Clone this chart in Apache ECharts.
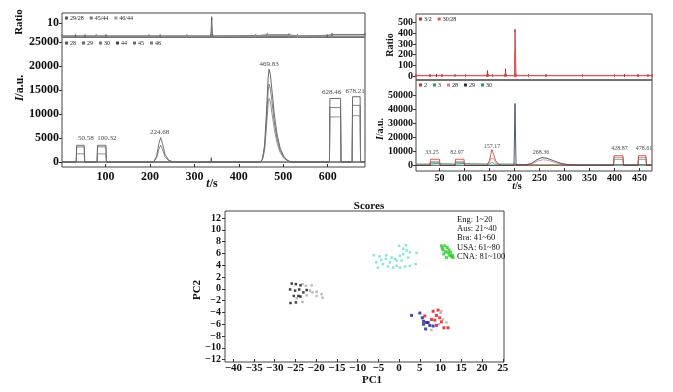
<!DOCTYPE html>
<html><head><meta charset="utf-8">
<script src="https://cdn.jsdelivr.net/npm/echarts@6/dist/echarts.min.js"></script>
<style>html,body{margin:0;padding:0;background:#fff}#c{width:673px;height:392px}</style>
</head><body><div id="c"></div>
<script>
// ---------- Top-left chromatogram (t/s vs intensity) ----------
const tlXTicks = [100, 200, 300, 400, 500, 600];
const tlRatioTicks = [10];
const tlIntTicks = [0, 5000, 10000, 15000, 20000, 25000];
const tlRatioNames = ['29/28', '45/44', '46/44'];
const tlIntNames = ['28', '29', '30', '44', '45', '46'];
const tlRatio2928 = [[2,0.8],[32,0.8],[54,0.8],[79,0.8],[101,0.8],[198,0.8],[223,0.8],[283,0.8],[337,0.8],[339,13.5],[341,0.8],[438,0.8],[464,1.6],[513,1.6],[532,0.8],[599,0.8],[610,1.8],[684,1.8]];
const tlRatio4544 = [[2,0.6],[54,0.6],[101,0.6],[223,0.6],[337,0.6],[339,6],[341,0.6],[464,1.2],[513,1.2],[532,0.6],[610,1.4],[684,1.4]];
const tlRatio4644 = [[2,0.5],[79,0.5],[198,0.5],[283,0.5],[438,0.5],[464,1.0],[513,1.0],[532,0.5],[684,0.5]];
const tl28 = [[2,0],[34,0],[35,3480],[52,3480],[53,0],[81,0],[82,3480],[101,3480],[102,0],[208,0],[215,1200],[220,3800],[224,5100],[228,3900],[234,1600],[242,400],[252,0],[684,0]];
const tl29 = [[2,0],[34,0],[35,3150],[52,3150],[53,0],[81,0],[82,3150],[101,3150],[102,0],[208,0],[215,900],[220,2700],[224,3500],[228,2700],[234,1100],[242,300],[252,0],[684,0]];
const tl30 = [[2,0],[34,0],[35,1700],[52,1700],[53,0],[81,0],[82,1700],[101,1700],[102,0],[684,0]];
const tl44 = [[2,0],[337,0],[338,900],[339,0],[448,0],[453,600],[458,3500],[462,10000],[466,17500],[468,19300],[471,18200],[475,14500],[480,9800],[486,5800],[493,2900],[501,1200],[509,400],[517,0],[604,0],[605,13240],[629,13240],[630,0],[655,0],[656,13600],[673,13600],[674,0],[684,0]];
const tl45 = [[2,0],[448,0],[453,500],[458,2900],[462,8400],[466,14700],[468,16240],[471,15300],[475,12200],[480,8200],[486,4900],[493,2400],[501,1000],[509,300],[517,0],[604,0],[605,11360],[629,11360],[630,0],[655,0],[656,11800],[673,11800],[674,0],[684,0]];
const tl46 = [[2,0],[448,0],[453,400],[458,2400],[462,6900],[466,12000],[468,13240],[471,12500],[475,9900],[480,6700],[486,4000],[493,2000],[501,800],[509,300],[517,0],[604,0],[605,9400],[629,9400],[630,0],[655,0],[656,9650],[673,9650],[674,0],[684,0]];
const tlPeakLabels = ['50.58', '100.32', '224.68', '469.83', '628.46', '678.21'];
const tlPeakT = [56, 103, 222, 468, 609, 662];
const tlPeakY = [4900, 4900, 6300, 20400, 14650, 14850];

// ---------- Top-right chromatogram ----------
const trXTicks = [50, 100, 150, 200, 250, 300, 350, 400, 450];
const trRatioTicks = [0, 100, 200, 300, 400, 500];
const trIntTicks = [0, 10000, 20000, 30000, 40000, 50000];
const trRatioNames = ['3/2', '30/28'];
const trIntNames = ['2', '3', '28', '29', '30'];
const trRatio32 = [[3,6],[31,6],[44,6],[55,6],[81,6],[102,6],[145,6],[146,40],[147,6],[156,6],[181,6],[182,55],[183,6],[200,6],[201,430],[203,6],[228,6],[263,6],[336,6],[400,6],[420,6],[447,6],[467,6],[475,6]];
const trRatio3028 = [[3,2],[31,2],[55,2],[102,2],[156,2],[200,2],[201,215],[202,2],[228,2],[263,2],[336,2],[400,2],[447,2],[475,2]];
const tr2 = [[3,0],[31,0],[32,4300],[50,4300],[51,0],[81,0],[82,4300],[99,4300],[100,0],[145,0],[150,3500],[153,8500],[155,11200],[158,8000],[162,3500],[168,800],[175,0],[398,0],[399,6800],[417,6800],[418,0],[447,0],[448,6800],[463,6800],[464,0],[475,0]];
const tr3 = [[3,900],[31,900],[32,1300],[50,1300],[51,900],[81,900],[82,1300],[99,1300],[100,900],[150,900],[155,2400],[160,900],[200,900],[205,300],[475,300]];
const tr28 = [[3,0],[31,0],[32,2600],[50,2600],[51,0],[81,0],[82,2600],[99,2600],[100,0],[145,0],[150,2000],[153,5000],[155,6400],[158,4700],[162,2000],[168,500],[175,0],[225,0],[235,800],[245,3000],[258,4000],[270,3300],[285,1500],[300,400],[315,0],[398,0],[399,5600],[417,5600],[418,0],[447,0],[448,5600],[463,5600],[464,0],[475,0]];
const tr29 = [[3,0],[199,0],[201,44000],[203,500],[215,300],[225,500],[235,1500],[245,4000],[255,5500],[265,5000],[280,3000],[295,1200],[310,400],[330,200],[475,200]];
const tr30 = [[3,0],[31,0],[32,1800],[50,1800],[51,0],[81,0],[82,1800],[99,1800],[100,0],[398,0],[399,4300],[417,4300],[418,0],[447,0],[448,4300],[463,4300],[464,0],[475,0]];
const trPeakLabels = ['33.25', '82.97', '157.17', '268.36', '428.87', '478.61'];
const trPeakT = [35, 85, 155, 253, 410, 459];
const trPeakY = [9500, 9500, 13600, 9500, 11900, 11900];

// ---------- Scores (PCA) ----------
const pcXTicks = [-40, -35, -30, -25, -20, -15, -10, -5, 0, 5, 10, 15, 20, 25];
const pcYTicks = [-12, -10, -8, -6, -4, -2, 0, 2, 4, 6, 8, 10, 12];
const groupLegend = ['Eng: 1~20', 'Aus: 21~40', 'Bra: 41~60', 'USA: 61~80', 'CNA: 81~100'];
const engPts = [[-25.9,0.9],[-24.9,0.8],[-23.8,0.6],[-26.3,-0.1],[-25.1,-0.3],[-24.1,-0.1],[-23.1,-0.6],[-22.3,-0.2],[-25.4,-1.2],[-24.3,-1.2],[-23.8,-1.3],[-26.2,-2.4],[-24.9,-2.3]];
const engNums = [[-23.3,0.8],[-22.5,0.5],[-21.1,0.6],[-21.5,-0.3],[-20.9,-0.6],[-19.9,-0.5],[-18.7,-0.9],[-18.5,-1.5],[-19.9,-1.2],[-22.3,-1.1],[-23.3,-2.2],[-24.7,-1.6]];
const ausPts = [[-6.1,5.7],[-4.7,5.5],[-3.2,5.1],[-1.8,5.3],[-3.9,4.2],[-5.1,3.6],[-2.7,3.8],[-0.6,4.8],[0.2,5.6],[1.0,5.9],[1.8,6.5],[2.6,6.2],[1.6,7.4],[0.0,7.3],[1.0,6.8],[4.2,6.1],[4.0,4.2],[2.6,3.9],[1.4,3.8],[0.2,3.6],[-0.6,3.9],[-1.4,3.6],[-2.2,4.5],[-3.1,5.7],[-4.3,4.9],[-5.5,4.5],[2.2,5.3],[0.6,4.8],[-1.0,5.1]];
const braPts = [[10.2,7.3],[11.0,7.3],[11.6,7.0],[10.6,6.6],[11.2,6.3],[11.8,6.1],[10.8,5.9],[12.2,5.7],[12.6,5.5],[11.4,5.3],[13.0,5.3],[12.0,6.6],[10.4,6.9],[12.4,6.2],[12.9,5.7]];
const usaPts = [[6.2,-4.6],[8.2,-3.8],[9.4,-3.6],[9.0,-4.5],[9.8,-4.9],[8.6,-5.3],[10.2,-5.6],[10.8,-6.6],[11.8,-6.6],[9.0,-6.2],[7.8,-5.2]];
const cnaPts = [[3.0,-4.5],[5.0,-4.1],[5.6,-4.9],[5.9,-5.5],[6.6,-5.7],[7.4,-6.2],[6.4,-6.8],[7.0,-5.7],[8.2,-6.3],[5.9,-6.0]];
const mixNums = [[10.0,-4.1],[10.6,-5.2],[11.4,-5.7],[7.8,-7.0],[10.2,-3.8],[9.6,-6.0]];

const FF = '"Liberation Serif","DejaVu Serif",serif';
const chart = echarts.init(document.getElementById('c'), null, {renderer: 'canvas'});

function line(name, data, idx, color, width, sym) {
  return {
    type: 'line', name: name, data: data, xAxisIndex: idx, yAxisIndex: idx,
    showSymbol: !!sym, symbol: 'rect', symbolSize: [1, 3], silent: true,
    itemStyle: {color: color}, lineStyle: {color: color, width: width || 0.8},
    animation: false, z: 3
  };
}
function peakLabels(labels, ts, ys, idx, size) {
  return {
    type: 'scatter', xAxisIndex: idx, yAxisIndex: idx, symbolSize: 0, silent: true,
    data: ts.map((t, i) => [t, ys[i]]),
    label: {show: true, position: 'inside', formatter: p => labels[p.dataIndex],
      fontFamily: FF, fontSize: size, color: '#111'},
    animation: false, z: 5
  };
}
function scat(name, data, color, size) {
  return {type: 'scatter', name: name, data: data, xAxisIndex: 4, yAxisIndex: 4,
    symbol: 'rect', symbolSize: size, itemStyle: {color: color}, animation: false, silent: true};
}
function valX(idx, min, max, ticks, showLabels, fs, margin) {
  return {
    type: 'value', gridIndex: idx, min: min, max: max,
    axisLine: {show: false, onZero: false}, splitLine: {show: false},
    axisTick: {show: showLabels, inside: true, length: 3, customValues: ticks, lineStyle: {color: '#333'}},
    axisLabel: {show: showLabels, customValues: ticks, fontFamily: FF, fontSize: fs, fontWeight: 'bold', color: '#111', margin: margin,
      formatter: v => String(v).replace('-', '\u2212')}
  };
}
function valY(idx, min, max, ticks, fs, weight, margin) {
  return {
    type: 'value', gridIndex: idx, min: min, max: max,
    axisLine: {show: false, onZero: false}, splitLine: {show: false},
    axisTick: {show: true, inside: false, length: 3, customValues: ticks, lineStyle: {color: '#333'}},
    axisLabel: {customValues: ticks, fontFamily: FF, fontSize: fs, fontWeight: weight, color: '#111', margin: margin,
      formatter: v => String(v).replace('-', '\u2212')}
  };
}
const gridStyle = {show: true, borderColor: '#444', borderWidth: 1, backgroundColor: 'transparent', containLabel: false};
const legendBase = {icon: 'rect', itemWidth: 3, itemHeight: 3, itemGap: 6, selectedMode: false,
  textStyle: {fontFamily: FF, fontSize: 6, color: '#222', padding: [0, 0, 0, -3]}, padding: 0,
  formatter: n => n.split('|')[1]};

const trColors = {'2': '#c0392b', '3': '#2e9d5b', '28': '#e07a7a', '29': '#1f3550', '30': '#3a8a7a'};

const series = [
  line('L|29/28', tlRatio2928, 0, '#555', 0.8, true),
  line('L|45/44', tlRatio4544, 0, '#777', 0.8, true),
  line('L|46/44', tlRatio4644, 0, '#999', 0.8, true),
  line('L|28', tl28, 1, '#555'),
  line('L|29', tl29, 1, '#666'),
  line('L|30', tl30, 1, '#777'),
  line('L|44', tl44, 1, '#444'),
  line('L|45', tl45, 1, '#666'),
  line('L|46', tl46, 1, '#777'),
  peakLabels(tlPeakLabels, tlPeakT, tlPeakY, 1, 7),
  line('R|3/2', trRatio32, 2, '#b03030', 0.8, true),
  line('R|30/28', trRatio3028, 2, '#e05050', 0.8, true),
  line('R|3', tr3, 3, trColors['3']),
  line('R|30', tr30, 3, trColors['30']),
  line('R|28', tr28, 3, trColors['28']),
  line('R|2', tr2, 3, trColors['2']),
  line('R|29', tr29, 3, trColors['29']),
  peakLabels(trPeakLabels, trPeakT, trPeakY, 3, 6),
  scat('EngNum', engNums, '#aaaaaa', 2.5),
  scat('MixNum', mixNums, '#aaaaaa', 2.5),
  scat('Eng', engPts, '#111111', 2.5),
  scat('Aus', ausPts, '#66dddd', 2.5),
  scat('Bra', braPts, '#22cc22', 3),
  scat('USA', usaPts, '#dd1111', 3),
  scat('CNA', cnaPts, '#1a1aa0', 3)
];

chart.setOption({
  backgroundColor: '#fff',
  animation: false,
  title: {text: 'Scores', left: 364, top: 196, textAlign: 'center',
    textStyle: {fontFamily: FF, fontSize: 11, fontWeight: 'bold', color: '#111'}},
  grid: [
    Object.assign({left: 62, top: 13, width: 303, height: 24}, gridStyle),
    Object.assign({left: 62, top: 37, width: 303, height: 130}, gridStyle),
    Object.assign({left: 416, top: 14, width: 236, height: 66}, gridStyle),
    Object.assign({left: 416, top: 80, width: 236, height: 91}, gridStyle),
    Object.assign({left: 225, top: 211, width: 279, height: 151}, gridStyle)
  ],
  xAxis: [
    valX(0, 2, 684, tlXTicks, false, 12, 4),
    valX(1, 2, 684, tlXTicks, true, 12, 4),
    valX(2, 3, 475, trXTicks, false, 10, 2),
    valX(3, 3, 475, trXTicks, true, 10, 2),
    valX(4, -42, 25.3, pcXTicks, true, 11, 1)
  ],
  yAxis: [
    valY(0, 0, 17, tlRatioTicks, 12, 'bold', 3),
    valY(1, -1040, 26040, tlIntTicks, 12, 'bold', 3),
    valY(2, -37, 582, trRatioTicks, 10, 'bold', 3),
    valY(3, -4070, 60700, trIntTicks, 10, 'bold', 3),
    valY(4, -12.4, 13.2, pcYTicks, 10, 'bold', 4)
  ],
  legend: [
    Object.assign({left: 65, top: 15, data: tlRatioNames.map(n => 'L|' + n)}, legendBase),
    Object.assign({left: 65, top: 40, data: tlIntNames.map(n => 'L|' + n)}, legendBase),
    Object.assign({left: 419, top: 16, data: trRatioNames.map(n => 'R|' + n)}, legendBase),
    Object.assign({left: 419, top: 82, data: trIntNames.map(n => 'R|' + n)}, legendBase)
  ],
  graphic: [
    {type: 'text', x: 19, y: 22, rotation: Math.PI / 2,
      style: {text: 'Ratio', font: 'bold 11px ' + FF, fill: '#111', align: 'center', verticalAlign: 'middle'}},
    {type: 'text', x: 20, y: 88, rotation: Math.PI / 2,
      style: {text: '{i|I}/a.u.', font: 'bold 12px ' + FF, fill: '#111', align: 'center', verticalAlign: 'middle',
        rich: {i: {fontStyle: 'italic', fontWeight: 'bold', fontSize: 12, fontFamily: FF, fill: '#111'}}}},
    {type: 'text', x: 212, y: 184,
      style: {text: '{i|t}/s', font: 'bold 12px ' + FF, fill: '#111', align: 'center', verticalAlign: 'middle',
        rich: {i: {fontStyle: 'italic', fontWeight: 'bold', fontSize: 12, fontFamily: FF, fill: '#111'}}}},
    {type: 'text', x: 390, y: 45, rotation: Math.PI / 2,
      style: {text: 'Ratio', font: 'bold 10px ' + FF, fill: '#111', align: 'center', verticalAlign: 'middle'}},
    {type: 'text', x: 380, y: 129, rotation: Math.PI / 2,
      style: {text: '{i|I}/a.u.', font: 'bold 10px ' + FF, fill: '#111', align: 'center', verticalAlign: 'middle',
        rich: {i: {fontStyle: 'italic', fontWeight: 'bold', fontSize: 10, fontFamily: FF, fill: '#111'}}}},
    {type: 'text', x: 517, y: 186,
      style: {text: '{i|t}/s', font: 'bold 10px ' + FF, fill: '#111', align: 'center', verticalAlign: 'middle',
        rich: {i: {fontStyle: 'italic', fontWeight: 'bold', fontSize: 10, fontFamily: FF, fill: '#111'}}}},
    {type: 'text', x: 372, y: 380,
      style: {text: 'PC1', font: 'bold 11px ' + FF, fill: '#111', align: 'center', verticalAlign: 'middle'}},
    {type: 'text', x: 197, y: 290, rotation: Math.PI / 2,
      style: {text: 'PC2', font: 'bold 11px ' + FF, fill: '#111', align: 'center', verticalAlign: 'middle'}},
    {type: 'text', x: 457, y: 215,
      style: {text: groupLegend.join('\n'), font: '8.5px ' + FF, lineHeight: 9.3, fill: '#111', align: 'left', verticalAlign: 'top'}}
  ],
  series: series
});
</script></body></html>
